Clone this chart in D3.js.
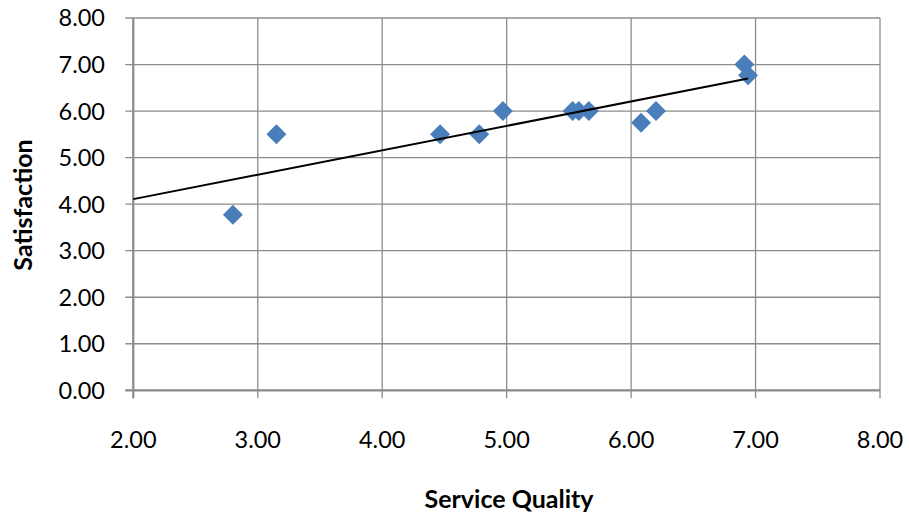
<!DOCTYPE html>
<html><head><meta charset="utf-8">
<script src="https://cdn.jsdelivr.net/npm/d3@7"></script>
<style>body{margin:0;background:#fff;} text{font-family:Lato,"Open Sans",sans-serif;}</style>
</head><body><svg id="c" width="909" height="515"></svg>
<script>
const serviceQuality = [2.80, 3.15, 4.465, 4.78, 4.97, 5.53, 5.58, 5.66, 6.08, 6.20, 6.91, 6.94];
const satisfaction   = [3.77, 5.50, 5.50, 5.50, 6.00, 6.00, 6.00, 6.00, 5.75, 6.00, 7.00, 6.77];
const xTicks = [2, 3, 4, 5, 6, 7, 8];
const yTicks = [0, 1, 2, 3, 4, 5, 6, 7, 8];
const xTitle = "Service Quality";
const yTitle = "Satisfaction";

const svg = d3.select("#c");
const L = 133.3, R = 880, T = 18, B = 390.3;
const x = d3.scaleLinear().domain([2, 8]).range([L, R]);
const y = d3.scaleLinear().domain([0, 8]).range([B, T]);
const grid = "#8c8c8c";

svg.append("g").selectAll("line").data(yTicks).join("line")
  .attr("x1", L - 8).attr("x2", R).attr("y1", d => y(d)).attr("y2", d => y(d))
  .attr("stroke", grid).attr("stroke-width", 1.3);
svg.append("g").selectAll("line").data(xTicks).join("line")
  .attr("x1", d => x(d)).attr("x2", d => x(d)).attr("y1", T).attr("y2", B + 8)
  .attr("stroke", grid).attr("stroke-width", 1.3);
svg.append("line").attr("x1", L).attr("x2", L).attr("y1", T).attr("y2", B + 8).attr("stroke", grid).attr("stroke-width", 2.2);
svg.append("line").attr("x1", L - 8).attr("x2", R).attr("y1", B).attr("y2", B).attr("stroke", grid).attr("stroke-width", 2.2);

svg.append("g").selectAll("text").data(yTicks).join("text")
  .attr("x", 105).attr("y", d => y(d)).attr("dy", "0.36em").attr("text-anchor", "end")
  .attr("font-size", 23.5).attr("fill", "#000").text(d => d.toFixed(2));
svg.append("g").selectAll("text").data(xTicks).join("text")
  .attr("x", d => x(d)).attr("y", 440).attr("dy", "0.36em").attr("text-anchor", "middle")
  .attr("font-size", 23.5).attr("fill", "#000").text(d => d.toFixed(2));

svg.append("text").attr("x", 509).attr("y", 499).attr("dy", "0.36em").attr("text-anchor", "middle")
  .attr("font-size", 25).attr("font-weight", "bold").text(xTitle);
svg.append("text").attr("transform", "translate(23,205) rotate(-90)").attr("dy", "0.36em").attr("text-anchor", "middle")
  .attr("font-size", 25).attr("font-weight", "bold").text(yTitle);

const pts = serviceQuality.map((v, i) => [v, satisfaction[i]]);
svg.append("g").selectAll("path").data(pts).join("path")
  .attr("d", d3.symbol().type(d3.symbolSquare).size(200))
  .attr("transform", d => `translate(${x(d[0])},${y(d[1])}) rotate(45)`)
  .attr("fill", "#4A7EBB");

const mx = d3.mean(serviceQuality), my = d3.mean(satisfaction);
const sxy = d3.sum(pts, d => (d[0] - mx) * (d[1] - my));
const sxx = d3.sum(pts, d => (d[0] - mx) ** 2);
const slope = sxy / sxx, icpt = my - slope * mx;
const x0 = 2, x1 = d3.max(serviceQuality);
svg.append("line").attr("x1", x(x0)).attr("y1", y(icpt + slope * x0))
  .attr("x2", x(x1)).attr("y2", y(icpt + slope * x1))
  .attr("stroke", "#000").attr("stroke-width", 2);
</script></body></html>
